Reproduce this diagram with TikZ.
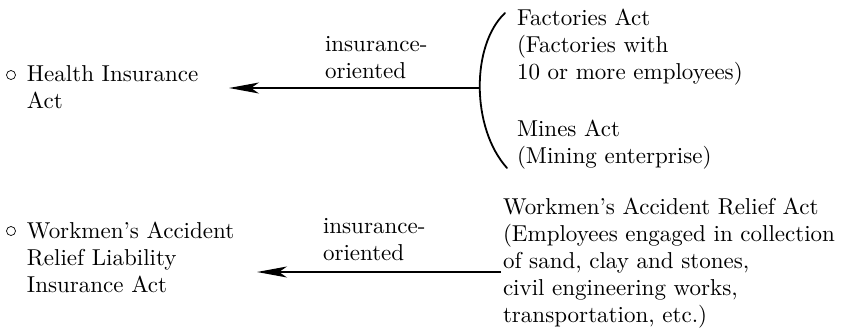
\documentclass[tikz,border=0pt]{standalone}
\usepackage{fontspec}
\setmainfont{lmroman10-regular}[Extension=.otf]
\usetikzlibrary{arrows.meta}
\begin{document}
\begin{tikzpicture}[x=1pt,y=-1pt,
  txt/.style={inner sep=0pt, outer sep=0pt, align=left, anchor=base west,
    font=\fontsize{23}{27}\selectfont},
  conn/.style={line width=1.4pt, -{Stealth[length=30pt,width=11pt,inset=8pt]}},
  brace/.style={line width=1.8pt, line cap=round},
  bullet/.style={circle, draw, line width=0.7pt, minimum size=9pt, inner sep=0pt}]
\useasboundingbox (0,0) rectangle (841,335);
% top (base anchor = baseline of last line)
\node[bullet] (b1) at (11,75) {};
\node[txt] (hia) at (27,108) {Health Insurance\\Act};
\node[txt] (io1) at (325,78) {insurance-\\oriented};
\node[txt] (fa) at (517,163) {Factories Act\\(Factories with\\10 or more employees)\\[30pt]Mines Act\\(Mining enterprise)};
\coordinate (bt) at (505,13);
\coordinate (bm) at (480,88);
\coordinate (bb) at (507,168);
\coordinate (a1) at (229,88);
\draw[brace] (bt) .. controls (471,45) and (471,128) .. (bb);
\draw[conn] (bm) -- (a1);
% bottom
\node[bullet] (b2) at (11,231) {};
\node[txt] (war) at (27,292) {Workmen's Accident\\Relief Liability\\Insurance Act};
\node[txt] (io2) at (323,260) {insurance-\\oriented};
\node[txt] (wra) at (503,322) {Workmen's Accident Relief Act\\(Employees engaged in collection\\of sand, clay and stones,\\civil engineering works,\\transportation, etc.)};
\coordinate (s2) at (501,272);
\coordinate (a2) at (257,272);
\draw[conn] (s2) -- (a2);
\end{tikzpicture}
\end{document}
